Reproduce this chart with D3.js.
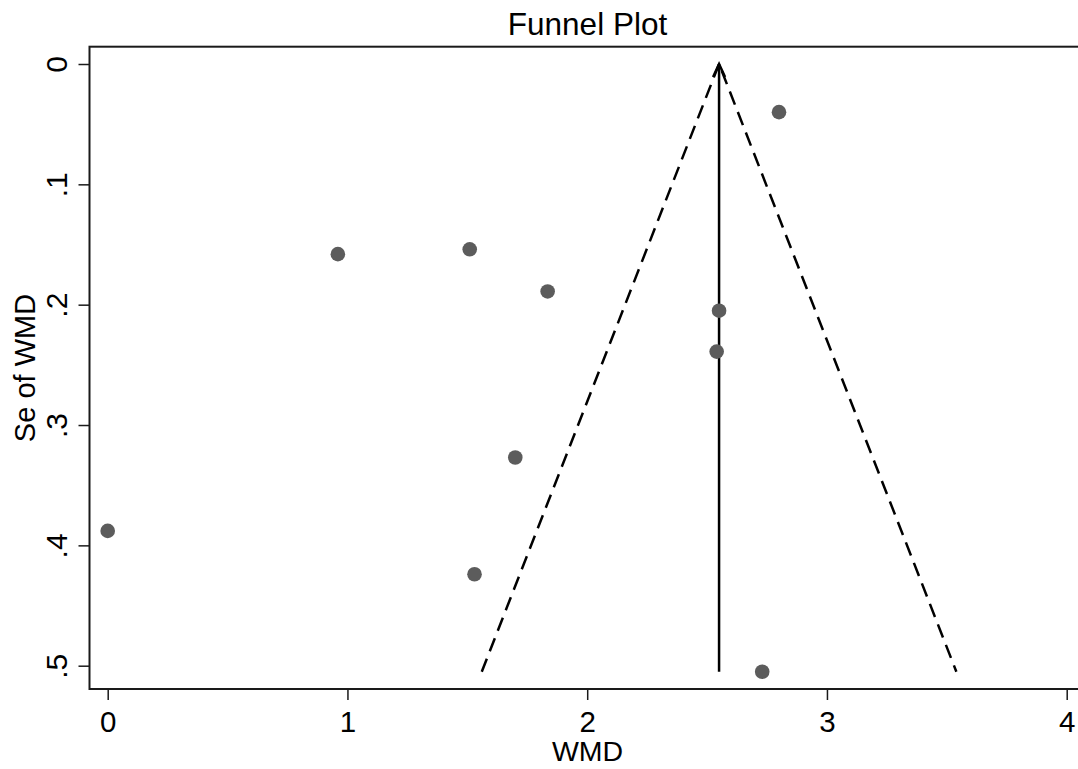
<!DOCTYPE html>
<html>
<head>
<meta charset="utf-8">
<script src="https://cdn.jsdelivr.net/npm/d3@7"></script>
<style>
  body { margin: 0; background: #fff; }
  svg { display: block; font-family: "Liberation Sans", Arial, sans-serif; }
</style>
</head>
<body>
<div id="chart"></div>
<script>
// study effects (WMD) and their standard errors
var wmd = [0.00, 0.96, 1.51, 1.835, 2.55, 2.54, 1.70, 1.53, 2.73, 2.80];
var seWmd = [0.388, 0.158, 0.154, 0.189, 0.205, 0.239, 0.327, 0.424, 0.505, 0.040];
var pooled = 2.55;
var xTicks = [0, 1, 2, 3, 4];
var yTicks = [0, 0.1, 0.2, 0.3, 0.4, 0.5];
var yTickLabels = ["0", ".1", ".2", ".3", ".4", ".5"];

var W = 1078, H = 769;
var frame = {left: 89.5, top: 46.7, bottom: 689, right: 1090};

var svg = d3.select("#chart").append("svg")
  .attr("width", W).attr("height", H);

var x = d3.scaleLinear().domain([0, 4]).range([107.7, 1066.7]);
var y = d3.scaleLinear().domain([0, 0.5]).range([64, 665.7]);

// title
svg.append("text")
  .attr("x", 587.5).attr("y", 35)
  .attr("text-anchor", "middle")
  .style("font-size", "31.5px")
  .text("Funnel Plot");

// plot frame (right edge cut off in the picture)
svg.append("rect")
  .attr("x", frame.left).attr("y", frame.top)
  .attr("width", frame.right - frame.left).attr("height", frame.bottom - frame.top)
  .attr("fill", "none").attr("stroke", "#1a1a1a").attr("stroke-width", 2);

// x axis
var xAxis = svg.append("g")
  .attr("transform", "translate(0," + frame.bottom + ")")
  .call(d3.axisBottom(x).tickValues(xTicks).tickFormat(d3.format("d")).tickSize(11));
xAxis.select(".domain").remove();
xAxis.selectAll("line").attr("stroke", "#1a1a1a").attr("stroke-width", 1.5);
xAxis.selectAll("text").style("font-size", "29.5px").attr("fill", "#000")
  .attr("dy", null).attr("y", 43);

// y axis
var yAxis = svg.append("g")
  .attr("transform", "translate(" + frame.left + ",0)")
  .call(d3.axisLeft(y).tickValues(yTicks).tickFormat(function(d, i) { return yTickLabels[i]; }).tickSize(11));
yAxis.select(".domain").remove();
yAxis.selectAll("line").attr("stroke", "#1a1a1a").attr("stroke-width", 1.5);
yAxis.selectAll("text")
  .style("font-size", "30px").attr("fill", "#000")
  .attr("x", null).attr("dy", null)
  .attr("text-anchor", "middle")
  .attr("transform", "translate(-23,0) rotate(-90)");

// axis titles
svg.append("text")
  .attr("x", 587.5).attr("y", 761)
  .attr("text-anchor", "middle")
  .style("font-size", "28.5px")
  .text("WMD");

svg.append("text")
  .attr("transform", "translate(35,368) rotate(-90)")
  .attr("text-anchor", "middle")
  .style("font-size", "29px")
  .text("Se of WMD");

// pseudo 95% confidence limits
var seMax = d3.max(seWmd);
var funnel = [[pooled - 1.96 * seMax, seMax], [pooled, 0], [pooled + 1.96 * seMax, seMax]];
svg.append("path")
  .attr("d", d3.line().x(function(d) { return x(d[0]); }).y(function(d) { return y(d[1]); })(funnel))
  .attr("fill", "none").attr("stroke", "#000").attr("stroke-width", 2.5)
  .attr("stroke-dasharray", "14,8");

// pooled estimate line with arrow head
svg.append("line")
  .attr("x1", x(pooled)).attr("x2", x(pooled))
  .attr("y1", y(seMax)).attr("y2", y(0))
  .attr("stroke", "#000").attr("stroke-width", 2.5);
svg.append("path")
  .attr("d", d3.line()([[x(pooled) - 6, y(0) + 13], [x(pooled), y(0)], [x(pooled) + 6, y(0) + 13]]))
  .attr("fill", "none").attr("stroke", "#000").attr("stroke-width", 2.5);

// studies
svg.append("g").selectAll("circle")
  .data(wmd)
  .join("circle")
  .attr("cx", function(d) { return x(d); })
  .attr("cy", function(d, i) { return y(seWmd[i]); })
  .attr("r", 7.3)
  .attr("fill", "#5c5c5c");
</script>
</body>
</html>
